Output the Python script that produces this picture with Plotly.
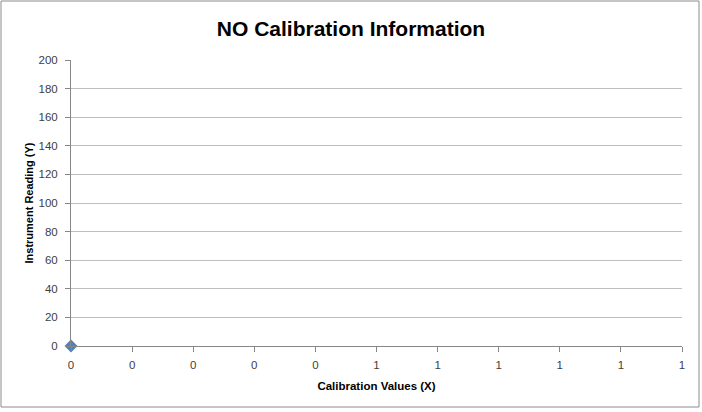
import plotly.graph_objects as go

# Data
x_values = [0]
y_values = [0]
x_tick_vals = [0, 0.1, 0.2, 0.3, 0.4, 0.5, 0.6, 0.7, 0.8, 0.9, 1.0]
x_tick_labels = ["0", "0", "0", "0", "0", "1", "1", "1", "1", "1", "1"]
y_tick_vals = [0, 20, 40, 60, 80, 100, 120, 140, 160, 180, 200]

FONT = "Liberation Sans"

fig = go.Figure()
fig.add_trace(go.Scatter(
    x=x_values, y=y_values, mode="markers",
    marker=dict(symbol="diamond", size=10, color="#4F81BD", line=dict(width=0)),
    cliponaxis=False, showlegend=False,
))

fig.update_layout(
    width=702, height=412,
    margin=dict(l=71, r=20, t=60, b=66),
    paper_bgcolor="white", plot_bgcolor="white",
    font=dict(family=FONT, size=11, color="#333333"),
    title=dict(text="<b>NO Calibration Information</b>", x=0.5, xanchor="center",
               y=1 - 29 / 412, yanchor="middle",
               font=dict(family=FONT, size=21, color="#000000")),
    xaxis=dict(range=[0, 1], tickmode="array", tickvals=x_tick_vals, ticktext=x_tick_labels,
               showgrid=False, zeroline=False, showline=True, linecolor="#868686", linewidth=1,
               ticks="outside", ticklen=5, tickcolor="#868686", ticklabelstandoff=3,
               tickfont=dict(family=FONT, size=11.5, color="#404040"),
               title=dict(text="<b>Calibration Values (X)</b>", standoff=12,
                          font=dict(family=FONT, size=11.5, color="#000000"))),
    yaxis=dict(range=[0, 200], tickmode="array", tickvals=y_tick_vals,
               showgrid=True, gridcolor="#BFBFBF", gridwidth=1, zeroline=False,
               showline=True, linecolor="#868686", linewidth=1,
               ticks="outside", ticklen=5, tickcolor="#868686", ticklabelstandoff=5,
               tickfont=dict(family=FONT, size=11.5, color="#404040"),
               title=dict(text="<b>Instrument Reading (Y)</b>", standoff=2,
                          font=dict(family=FONT, size=11, color="#000000"))),
)

# outer chart border
fig.add_shape(type="rect", xref="paper", yref="paper",
              x0=(1 - 71) / 611, x1=(699 - 71) / 611,
              y0=(346 - 407) / 286, y1=(346 - 1) / 286,
              line=dict(color="#8C8C8C", width=1), fillcolor="rgba(0,0,0,0)", layer="below")

fig.write_html("out.html", config={"displayModeBar": False},
               post_script="document.body.style.margin='0';")
